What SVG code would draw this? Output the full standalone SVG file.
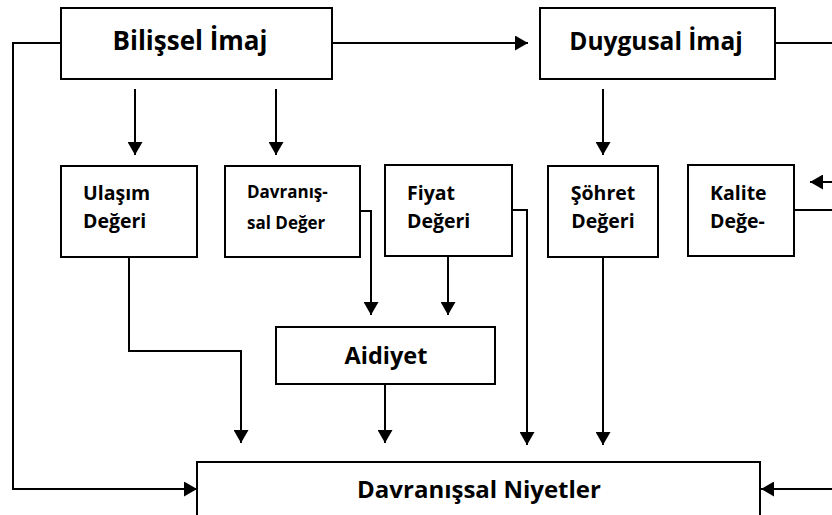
<svg xmlns="http://www.w3.org/2000/svg" width="832" height="515" viewBox="0 0 832 515">
<style>
.box{fill:#fff;stroke:#000;stroke-width:2}
.ln{fill:none;stroke:#000;stroke-width:2}
.ar{marker-end:url(#ah)}
text{font-family:"Open Sans","Liberation Sans",sans-serif;font-weight:bold;fill:#000}
.big{font-size:24.5px;text-anchor:middle}
.sm{font-size:19.5px}
.xs{font-size:17px}
</style>
<defs>
<marker id="ah" markerUnits="userSpaceOnUse" markerWidth="13" markerHeight="15" viewBox="0 0 13 15" refX="13" refY="7.5" orient="auto">
<path d="M0,0 L13,7.5 L0,15 z" fill="#000"/>
</marker>
</defs>
<rect width="832" height="515" fill="#fff"/>
<g id="connectors">
<polyline class="ln ar" points="61,43 13,43 13,489 197,489"/>
<line class="ln ar" x1="332" y1="43" x2="528" y2="43"/>
<line class="ln" x1="775" y1="43" x2="832" y2="43"/>
<line class="ln ar" x1="135" y1="89" x2="135" y2="155"/>
<line class="ln ar" x1="276" y1="89" x2="276" y2="155"/>
<line class="ln ar" x1="603" y1="89" x2="603" y2="155"/>
<line class="ln ar" x1="832" y1="182" x2="810" y2="182"/>
<line class="ln" x1="794" y1="210" x2="832" y2="210"/>
<polyline class="ln ar" points="360,211 371,211 371,315"/>
<line class="ln ar" x1="448" y1="256" x2="448" y2="315"/>
<polyline class="ln ar" points="512,210 527,210 527,445"/>
<line class="ln ar" x1="603" y1="257" x2="603" y2="445"/>
<polyline class="ln ar" points="129,257 129,351 241,351 241,443"/>
<line class="ln ar" x1="385" y1="384" x2="385" y2="443"/>
<line class="ln ar" x1="832" y1="489" x2="761" y2="489"/>
</g>
<g id="bilissel">
<rect class="box" x="61" y="8" width="271" height="71"/>
<text class="big" x="190" y="50" style="font-size:26px">Bilişsel İmaj</text>
</g>
<g id="duygusal">
<rect class="box" x="540" y="8" width="235" height="71"/>
<text class="big" x="656" y="50">Duygusal İmaj</text>
</g>
<g id="ulasim">
<rect class="box" x="61" y="166" width="136" height="91"/>
<text class="sm" x="83" y="200">Ulaşım</text>
<text class="sm" x="83" y="228">Değeri</text>
</g>
<g id="davranissal">
<rect class="box" x="225" y="166" width="135" height="91"/>
<text class="xs" x="247" y="198">Davranış-</text>
<text class="xs" x="247" y="229">sal Değer</text>
</g>
<g id="fiyat">
<rect class="box" x="385" y="165" width="127" height="91"/>
<text class="sm" x="407" y="200">Fiyat</text>
<text class="sm" x="407" y="228">Değeri</text>
</g>
<g id="sohret">
<rect class="box" x="548" y="166" width="110" height="91"/>
<text class="sm" x="603" y="200" text-anchor="middle">Şöhret</text>
<text class="sm" x="603" y="228" text-anchor="middle">Değeri</text>
</g>
<g id="kalite">
<rect class="box" x="688" y="165" width="106" height="91"/>
<text class="sm" x="710" y="200">Kalite</text>
<text class="sm" x="710" y="228">Değe-</text>
</g>
<g id="aidiyet">
<rect class="box" x="276" y="327" width="219" height="57"/>
<text x="386" y="364" font-size="23.5" text-anchor="middle">Aidiyet</text>
</g>
<g id="niyetler">
<rect class="box" x="197" y="462" width="563" height="70"/>
<text x="479" y="498" font-size="24" text-anchor="middle">Davranışsal Niyetler</text>
</g>
</svg>
